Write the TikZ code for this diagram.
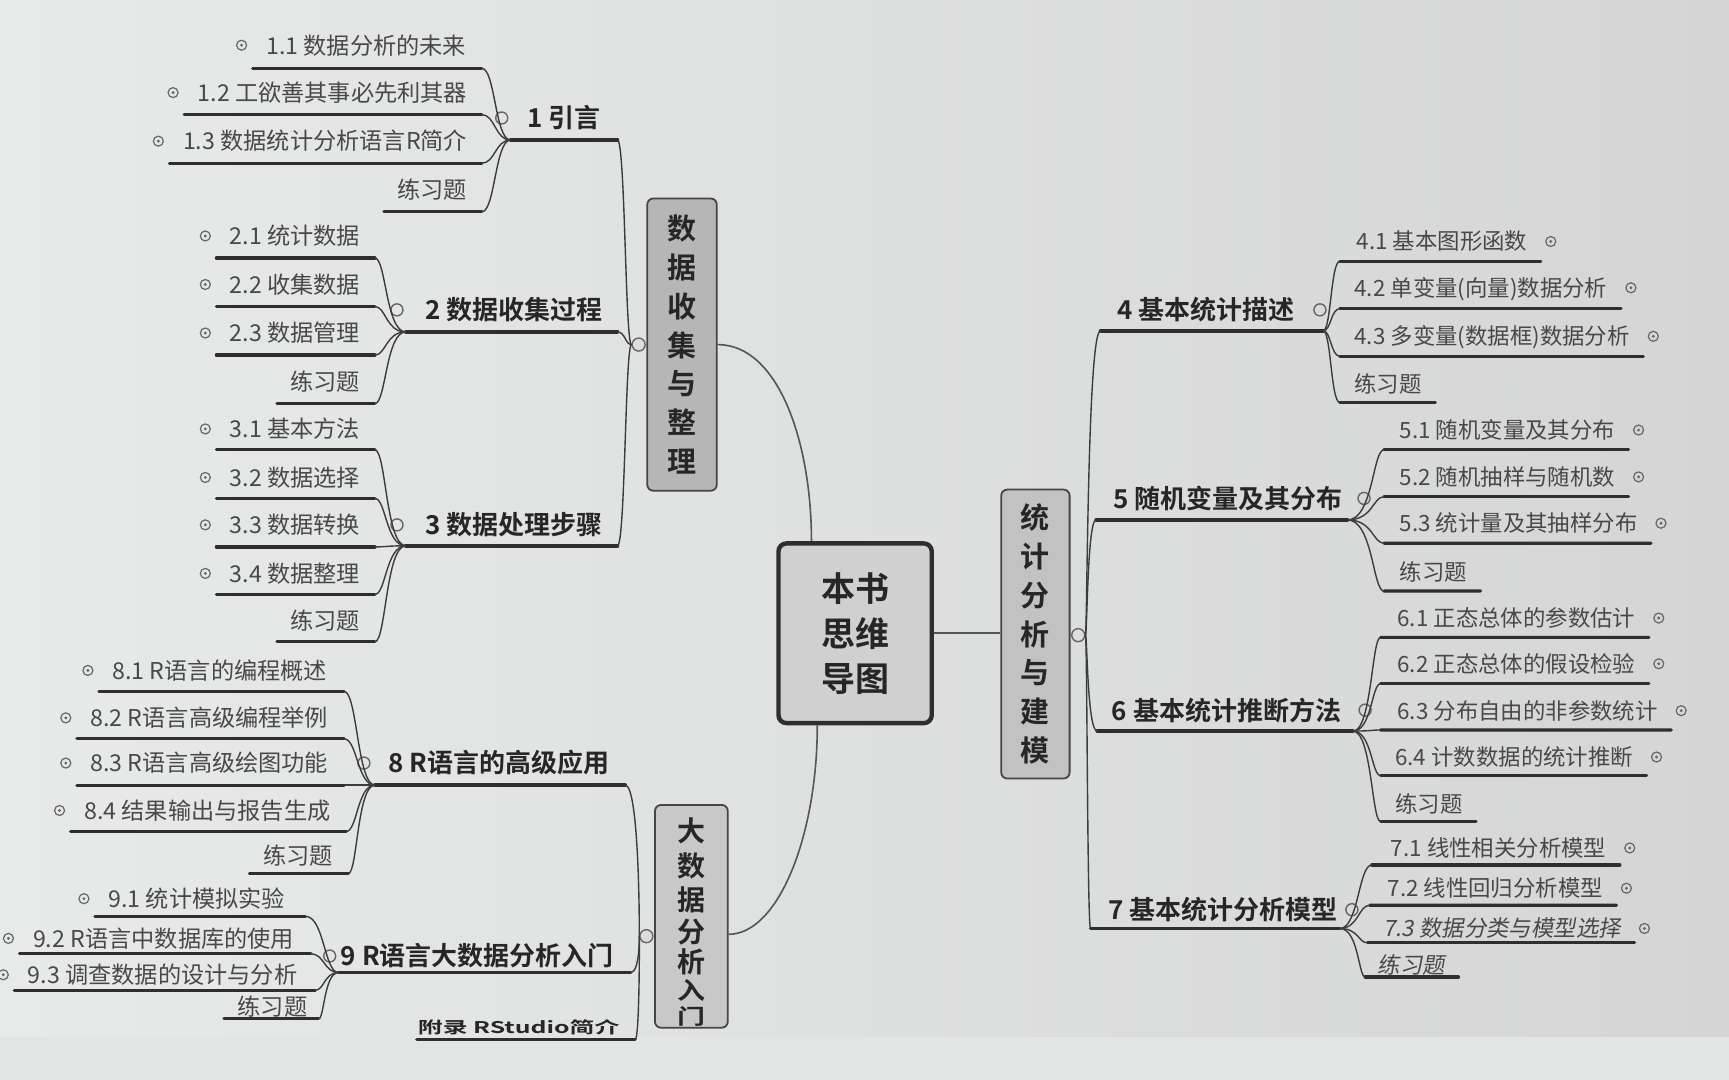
\documentclass[tikz,border=0pt]{standalone}
\usepackage{fontspec}
\usepackage{graphicx}
\usetikzlibrary{calc}
\newfontfamily\cjk{Noto Sans CJK SC}
\newfontfamily\cjkb{Noto Sans CJK SC Bold}
\newfontfamily\cjki{Noto Sans CJK SC}[FakeSlant=0.18]
\definecolor{bgL}{HTML}{E8EAEA}
\definecolor{bgR}{HTML}{D5D5D5}
\definecolor{bgB}{HTML}{E3E4E4}
\definecolor{subc}{HTML}{484848}
\definecolor{topc}{HTML}{262626}
\definecolor{ulc}{HTML}{2E2E2E}
\definecolor{spc}{HTML}{3C3C3C}
\definecolor{markc}{HTML}{666666}
\definecolor{cnc}{HTML}{555555}
\definecolor{boxd}{HTML}{454545}
\definecolor{boxt}{HTML}{262626}
\definecolor{fillA}{HTML}{B6B6B6}
\definecolor{fillB}{HTML}{C8C8C8}
\definecolor{fillC}{HTML}{C2C2C2}
\definecolor{fillM}{HTML}{D0D0D0}
\def\unitpx{0.55134pt}
\newcommand\mmsubL[7]{%
  \node[subtxt, anchor=east] (#1) at (#3,#2) {#6};
  \node[#7] (#1m) at ($(#1.west)+(-22,0)$) {};
  \coordinate (#1a) at ($(#1.west)+(-12,#4-#2)$);
  \coordinate (#1b) at (#5,#4);
  \draw[ul] (#1a) -- (#1b);
}
\newcommand\mmsubR[7]{%
  \node[subtxtR, anchor=west] (#1) at (#3,#2) {#6};
  \node[#7] (#1m) at ($(#1.east)+(21,0)$) {};
  \coordinate (#1a) at (#5,#4);
  \coordinate (#1b) at ($(#1.east)+(12,#4-#2)$);
  \draw[ul] (#1a) -- (#1b);
}
\newcommand\mmtopL[8]{%
  \node[toptxt, anchor=east] (#1) at (#3,#2) {#8};
  \node[topmark] (#1m) at (#7,#2) {};
  \coordinate (#1l) at (#5,#4);
  \coordinate (#1r) at (#6,#4);
  \draw[tul] (#1l) -- (#1r);
}
\newcommand\mmtopR[8]{%
  \node[toptxt, anchor=west] (#1) at (#3,#2) {#8};
  \node[topmark] (#1m) at (#7,#2) {};
  \coordinate (#1l) at (#5,#4);
  \coordinate (#1r) at (#6,#4);
  \draw[tul] (#1l) -- (#1r);
}
\newcommand\mmlink[3]{\draw[spine] (#1) .. controls (#1 -| #3) and (#2 -| #3) .. (#2);}
\begin{document}
\begin{tikzpicture}[x=0.55134pt,y=-0.55134pt,
  subtxt/.style={font=\cjk\fontsize{11.6}{13}\selectfont, text=subc, inner sep=0pt, text height=9.6pt, text depth=0.8pt},
  subtxtR/.style={font=\cjk\fontsize{11.2}{13}\selectfont, text=subc, inner sep=0pt, text height=9.3pt, text depth=0.8pt},
  toptxt/.style={font=\cjkb\fontsize{13}{15}\selectfont, text=topc, inner sep=0pt, text height=10.8pt, text depth=0.9pt},
  submark/.style={circle, draw=markc, line width=0.6pt, minimum size=5pt, inner sep=0pt,
     path picture={\fill[markc] (path picture bounding box.center) circle (0.8pt);}},
  topmark/.style={circle, draw=markc, line width=0.7pt, minimum size=6pt, inner sep=0pt},
  boxmark/.style={circle, draw=markc, line width=0.7pt, minimum size=6.5pt, inner sep=0pt, fill=bgR!60!bgL},
  ul/.style={draw=ulc, line width=1.6pt, line cap=round},
  tul/.style={draw=ulc, line width=1.8pt, line cap=round},
  spine/.style={draw=spc, line width=0.7pt},
  conn/.style={draw=cnc, line width=0.8pt},
  bigbox/.style={draw=boxd, line width=0.9pt, rounded corners=3pt, inner sep=0pt, align=center,
     font=\cjkb\fontsize{14.5}{19.4}\selectfont, text=boxt},
  boxtxt/.style={inner sep=0pt, align=center, font=\cjkb\fontsize{14}{19.4}\selectfont, text=boxt},
  apptxt/.style={inner sep=0pt, font=\cjkb\fontsize{12.4}{14}\selectfont, text=topc},
  centre/.style={draw=ulc, line width=2.2pt, rounded corners=4pt, fill=fillM, inner sep=0pt, align=center,
     minimum width=139*\unitpx, minimum height=163*\unitpx, font=\cjkb\fontsize{17}{22.5}\selectfont, text=boxt}
]
\useasboundingbox (0,0) rectangle (1568,979);
\shade[left color=bgL, right color=bgR] (0,0) rectangle (1568,979);
\fill[bgB] (0,940) rectangle (1568,979);

% ---------- central and main boxes ----------
\node[centre] (c) at (775.5,574.3) {本书\\思维\\导图};
\node[bigbox, fill=fillA, minimum width=63*\unitpx, minimum height=265*\unitpx] (b1) at (618.5,312.5) {数\\据\\收\\集\\与\\整\\理};
\node[bigbox, fill=fillB, minimum width=66*\unitpx, minimum height=202*\unitpx] (b2) at (627,831) {};
\node[boxtxt] (b2t) at (627,836) {大\\[-1.8pt]数\\[-2.3pt]据\\[-3.4pt]分\\[-4.5pt]析\\[-6pt]\scalebox{1}[0.85]{入}\\[-7pt]\scalebox{1}[0.75]{门}};
\node[bigbox, fill=fillC, minimum width=62*\unitpx, minimum height=262*\unitpx] (b3) at (939,575) {统\\计\\分\\析\\与\\建\\模};
\node[boxmark] (m1) at ($(b1.west)+(-7,0)$) {};
\node[boxmark] (m2) at ($(b2.west)+(-7,18)$) {};
\node[boxmark] (m3) at ($(b3.east)+(7,1)$) {};
\coordinate (ctop) at ($(c.north west)!0.223!(c.north east)$);
\coordinate (cbot) at ($(c.south west)!0.26!(c.south east)$);
\coordinate (b2e) at ($(b2.north east)!0.58!(b2.south east)$);
\draw[conn] (b1.east) .. controls ($(b1.east)+(55,0)$) and ($(ctop)+(0,-90)$) .. (ctop);
\draw[conn] (cbot) .. controls ($(cbot)+(0,100)$) and ($(b2e)+(45,0)$) .. (b2e);
\draw[conn] (c.east) -- (c.east -| b3.west);

% ---------- spine x positions ----------
\coordinate (SL1) at (567,0);
\coordinate (SL2) at (580,0);
\coordinate (SR) at (986,0);
\coordinate (S1) at (449,0);
\coordinate (S2) at (350,0);
\coordinate (S3) at (350,0);
\coordinate (S8) at (324,0);
\coordinate (S9) at (294,0);
\coordinate (S4) at (1207,0);
\coordinate (S5) at (1245,0);
\coordinate (S6) at (1244,0);
\coordinate (S7) at (1232,0);

% ---------- group 1 ----------
\mmtopL{t1}{107}{545}{127}{463}{560}{455}{1 引言}
\mmsubL{s11}{41}{423}{62}{437}{1.1 数据分析的未来}{submark}
\mmsubL{s12}{84}{424}{104}{437}{1.2 工欲善其事必先利其器}{submark}
\mmsubL{s13}{128}{424}{148}{437}{1.3 数据统计分析语言R简介}{submark}
\mmsubL{s14}{172}{424}{192}{437}{练习题}{coordinate}
\mmlink{t1l}{s11b}{S1}\mmlink{t1l}{s12b}{S1}\mmlink{t1l}{s13b}{S1}\mmlink{t1l}{s14b}{S1}

% ---------- group 2 ----------
\mmtopL{t2}{281}{547}{301}{368}{560}{360}{2 数据收集过程}
\mmsubL{s21}{214}{327}{234}{340}{2.1 统计数据}{submark}
\mmsubL{s22}{258}{327}{278}{340}{2.2 收集数据}{submark}
\mmsubL{s23}{302}{327}{322}{340}{2.3 数据管理}{submark}
\mmsubL{s24}{346}{327}{366}{340}{练习题}{coordinate}
\mmlink{t2l}{s21b}{S2}\mmlink{t2l}{s22b}{S2}\mmlink{t2l}{s23b}{S2}\mmlink{t2l}{s24b}{S2}

% ---------- group 3 ----------
\mmtopL{t3}{476}{547}{495}{368}{560}{360}{3 数据处理步骤}
\mmsubL{s31}{389}{327}{408}{340}{3.1 基本方法}{submark}
\mmsubL{s32}{433}{327}{452}{340}{3.2 数据选择}{submark}
\mmsubL{s33}{476}{327}{496}{340}{3.3 数据转换}{submark}
\mmsubL{s34}{520}{327}{539}{340}{3.4 数据整理}{submark}
\mmsubL{s35}{563}{327}{582}{340}{练习题}{coordinate}
\mmlink{t3l}{s31b}{S3}\mmlink{t3l}{s32b}{S3}\mmlink{t3l}{s33b}{S3}\mmlink{t3l}{s34b}{S3}\mmlink{t3l}{s35b}{S3}

\mmlink{m1.west}{t1r}{SL1}\mmlink{m1.west}{t2r}{SL1}\mmlink{m1.west}{t3r}{SL1}

% ---------- group 8 ----------
\mmtopL{t8}{692}{553}{712}{340}{567}{330}{8 R语言的高级应用}
\mmsubL{s81}{608}{297}{627}{312}{8.1 R语言的编程概述}{submark}
\mmsubL{s82}{651}{298}{670}{312}{8.2 R语言高级编程举例}{submark}
\mmsubL{s83}{692}{298}{712}{312}{8.3 R语言高级绘图功能}{submark}
\mmsubL{s84}{735}{300}{754}{314}{8.4 结果输出与报告生成}{submark}
\mmsubL{s85}{776}{302}{792}{316}{练习题}{coordinate}
\mmlink{t8l}{s81b}{S8}\mmlink{t8l}{s82b}{S8}\mmlink{t8l}{s83b}{S8}\mmlink{t8l}{s84b}{S8}\mmlink{t8l}{s85b}{S8}

% ---------- group 9 ----------
\mmtopL{t9}{867}{557}{882}{307}{572}{299}{9 R语言大数据分析入门}
\mmsubL{s91}{815}{259}{831}{277}{9.1 统计模拟实验}{submark}
\mmsubL{s92}{851}{267}{865}{282}{9.2 R语言中数据库的使用}{submark}
\mmsubL{s93}{884}{270}{898}{286}{9.3 调查数据的设计与分析}{submark}
\mmsubL{s94}{913}{279}{924}{289}{练习题}{coordinate}
\mmlink{t9l}{s91b}{S9}\mmlink{t9l}{s92b}{S9}\mmlink{t9l}{s93b}{S9}\mmlink{t9l}{s94b}{S9}

% ---------- appendix ----------
\node[apptxt, anchor=east] (app) at (562,932) {\scalebox{1}[0.65]{附录 RStudio简介}};
\coordinate (appl) at (378,943);
\coordinate (appr) at (576,943);
\draw[ul] (appl) -- (appr);

\mmlink{m2.west}{t8r}{SL2}\mmlink{m2.west}{t9r}{SL2}\mmlink{m2.west}{appr}{SL2}

% ---------- group 4 ----------
\mmtopR{t4}{281}{1013}{300}{998}{1200}{1197}{4 基本统计描述}
\mmsubR{s41}{219}{1230}{237}{1215}{4.1 基本图形函数}{submark}
\mmsubR{s42}{261}{1228}{280}{1215}{4.2 单变量(向量)数据分析}{submark}
\mmsubR{s43}{305}{1228}{323}{1215}{4.3 多变量(数据框)数据分析}{submark}
\mmsubR{s44}{348}{1228}{365}{1215}{练习题}{coordinate}
\mmlink{t4r}{s41a}{S4}\mmlink{t4r}{s42a}{S4}\mmlink{t4r}{s43a}{S4}\mmlink{t4r}{s44a}{S4}

% ---------- group 5 ----------
\mmtopR{t5}{452}{1009}{471.5}{994}{1222}{1237}{5 随机变量及其分布}
\mmsubR{s51}{390}{1269}{408}{1255}{5.1 随机变量及其分布}{submark}
\mmsubR{s52}{432.5}{1269}{450.5}{1255}{5.2 随机抽样与随机数}{submark}
\mmsubR{s53}{474.5}{1269}{492.6}{1255}{5.3 统计量及其抽样分布}{submark}
\mmsubR{s54}{518.5}{1269}{536}{1255}{练习题}{coordinate}
\mmlink{t5r}{s51a}{S5}\mmlink{t5r}{s52a}{S5}\mmlink{t5r}{s53a}{S5}\mmlink{t5r}{s54a}{S5}

% ---------- group 6 ----------
\mmtopR{t6}{644}{1008}{663}{995}{1227}{1238}{6 基本统计推断方法}
\mmsubR{s61}{560.5}{1267}{578}{1252}{6.1 正态总体的参数估计}{submark}
\mmsubR{s62}{602}{1267}{620}{1252}{6.2 正态总体的假设检验}{submark}
\mmsubR{s63}{644.5}{1267}{662}{1252}{6.3 分布自由的非参数统计}{submark}
\mmsubR{s64}{686.5}{1265}{703.5}{1252}{6.4 计数数据的统计推断}{submark}
\mmsubR{s65}{729}{1265}{745}{1252}{练习题}{coordinate}
\mmlink{t6r}{s61a}{S6}\mmlink{t6r}{s62a}{S6}\mmlink{t6r}{s63a}{S6}\mmlink{t6r}{s64a}{S6}\mmlink{t6r}{s65a}{S6}

% ---------- group 7 ----------
\mmtopR{t7}{825}{1005}{842}{989}{1215}{1226}{7 基本统计分析模型}
\mmsubR{s71}{769}{1261}{784.5}{1244}{7.1 线性相关分析模型}{submark}
\mmsubR{s72}{805.5}{1258}{821}{1242}{7.2 线性回归分析模型}{submark}
\mmsubR{s73}{842}{1254}{855}{1240}{{\cjki 7.3 数据分类与模型选择}}{submark}
\mmsubR{s74}{875}{1249}{886}{1238}{{\cjki 练习题}}{coordinate}
\mmlink{t7r}{s71a}{S7}\mmlink{t7r}{s72a}{S7}\mmlink{t7r}{s73a}{S7}\mmlink{t7r}{s74a}{S7}

\mmlink{m3.east}{t4l}{SR}\mmlink{m3.east}{t5l}{SR}\mmlink{m3.east}{t6l}{SR}\mmlink{m3.east}{t7l}{SR}
\end{tikzpicture}
\end{document}
